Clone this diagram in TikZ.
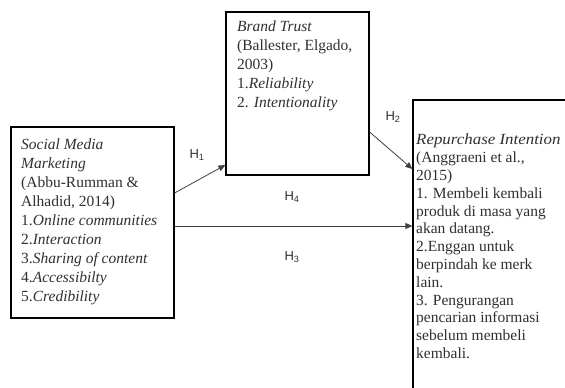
\documentclass[tikz,border=0pt]{standalone}
\usepackage{fontspec}
\usepackage{graphicx}
\setmainfont{Liberation Serif}
\newfontfamily\labfont{Liberation Sans}
\usetikzlibrary{arrows.meta}
\definecolor{txt}{HTML}{303030}
\definecolor{ln}{HTML}{404040}
\tikzset{
  box/.style={draw=black, line width=1.2pt, rectangle, inner sep=0pt},
  boxtext/.style={anchor=north west, inner sep=0pt, align=left, text=txt, font=\fontsize{15.5}{18.9}\selectfont},
  conn/.style={draw=ln, line width=0.8pt, -{Triangle[length=7pt,width=6pt]}},
  hlab/.style={text=txt, inner sep=0pt, font=\labfont\fontsize{13}{15}\selectfont}
}
\begin{document}
\begin{tikzpicture}[x=1pt,y=-1pt]
\useasboundingbox (0,0) rectangle (565,388);
\clip (0,0) rectangle (565,388);
\fill[white] (0,0) rectangle (565,388);
% boxes
\node[box, minimum width=163pt, minimum height=191pt] (sm) at (92.5,222.5) {};
\node[box, minimum width=143pt, minimum height=163pt] (bt) at (297.5,93.5) {};
\node[box, minimum width=187pt, minimum height=320pt] (rp) at (506.5,260) {};
% texts
\node[boxtext] (smt) at (21,139) {\textit{Social Media}\\ \textit{Marketing}\\ (Abbu-Rumman \&\\ Alhadid, 2014)\\ 1.\textit{Online communities}\\ 2.\textit{Interaction}\\ 3.\textit{Sharing of content}\\ 4.\textit{Accessibilty}\\ 5.\textit{Credibility}};
\node[boxtext, font=\fontsize{15.5}{19}\selectfont] (btt) at (237,21) {\textit{Brand Trust}\\ (Ballester, Elgado,\\ 2003)\\ 1.\textit{Reliability}\\ 2. \textit{Intentionality}};
\node[boxtext, font=\fontsize{15.5}{17.8}\selectfont] (rpt) at (416,134) {\scalebox{1.09}[1]{\textit{Repurchase Intention}}\\ (Anggraeni et al.,\\ 2015)\\ 1. Membeli kembali\\ produk di masa yang\\ akan datang.\\ 2.Enggan untuk\\ berpindah ke merk\\ lain.\\ 3. Pengurangan\\ pencarian informasi\\ sebelum membeli\\ kembali.};
% connectors
\draw[conn] (sm.east |- 0,193) -- (bt.west |- 0,165);
\draw[conn] (bt.east |- 0,132) -- (rp.west |- 0,169);
\draw[conn] (sm.east |- 0,226) -- (rp.west |- 0,226);
% labels
\node[hlab] (h1) at (197,155) {H\textsubscript{1}};
\node[hlab] (h2) at (393,117) {H\textsubscript{2}};
\node[hlab] (h4) at (292,197) {H\textsubscript{4}};
\node[hlab] (h3) at (292,257) {H\textsubscript{3}};
\end{tikzpicture}
\end{document}
